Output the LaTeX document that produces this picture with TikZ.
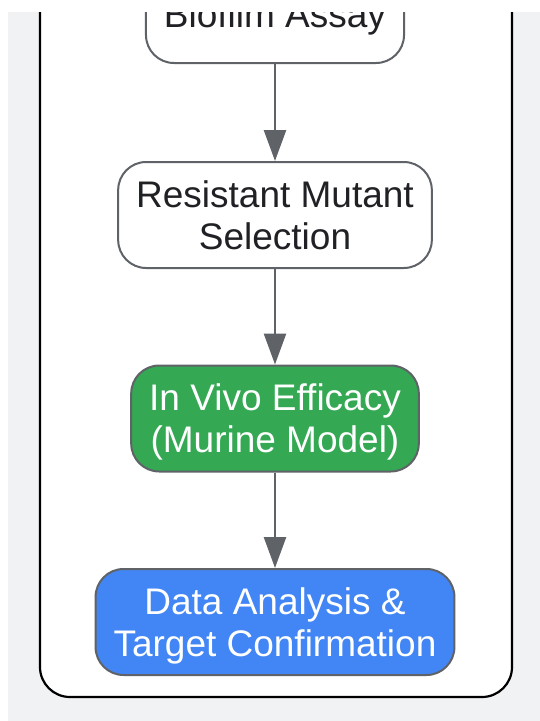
\documentclass[tikz,border=0pt]{standalone}
\usepackage{fontspec}
\setmainfont{Liberation Sans}
\usetikzlibrary{arrows.meta}
\definecolor{bggray}{HTML}{F1F2F4}
\definecolor{edgegray}{HTML}{5F6368}
\definecolor{gGreen}{HTML}{34A853}
\definecolor{gBlue}{HTML}{4285F4}
\definecolor{txtdark}{HTML}{202124}
\begin{document}
\begin{tikzpicture}[x=1pt,y=-1pt,
  box/.style={draw=edgegray, line width=2pt, rounded corners=28pt, align=center,
    font=\fontsize{37}{42}\selectfont, inner xsep=18pt, inner ysep=0pt,
    text height=69pt, text depth=1pt, minimum height=106pt},
  plainbox/.style={box, fill=white, text=txtdark},
  greenbox/.style={box, fill=gGreen, text=white},
  bluebox/.style={box, fill=gBlue, text=white},
  arr/.style={draw=edgegray, line width=2.6pt, -{Triangle[length=31pt,width=22pt]}},
  frame/.style={draw=black, line width=2.2pt, fill=white, rounded corners=30pt}]
\useasboundingbox (0,0) rectangle (540,721);
\fill[white] (0,0) rectangle (540,721);
\begin{scope}
\clip (0,12) rectangle (540,721);
\fill[bggray] (8,12) rectangle (540,721);
\draw[frame] (40,-40) rectangle (512,697);
\node[plainbox, text height=70pt, text depth=36pt, minimum height=0pt, anchor=base] (bio) at (275,27) {Biofilm Assay};
\node[plainbox] (res) at (275,215) {Resistant Mutant\\Selection};
\node[greenbox] (vivo) at (275,418.5) {In Vivo Efficacy\\(Murine Model)};
\node[bluebox] (data) at (275,622) {Data Analysis \&\\Target Confirmation};
\draw[arr] (bio) -- (res);
\draw[arr] (res) -- (vivo);
\draw[arr] (vivo) -- (data);
\end{scope}
\end{tikzpicture}
\end{document}
